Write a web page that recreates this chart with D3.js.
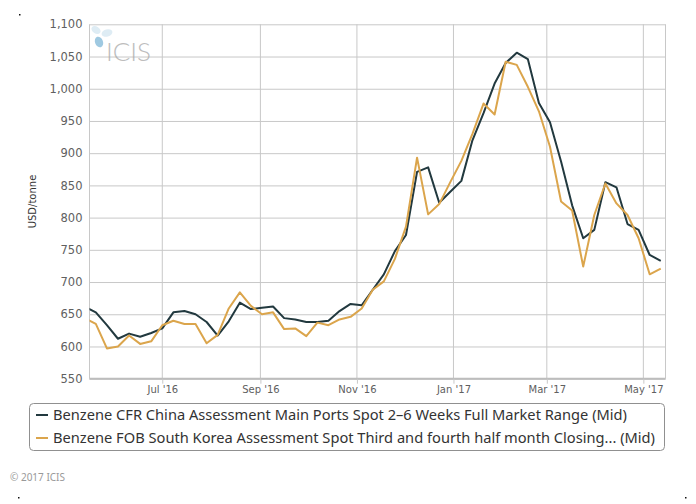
<!DOCTYPE html>
<html><head><meta charset="utf-8">
<script src="https://cdn.jsdelivr.net/npm/d3@7"></script>
<style>body{margin:0;background:#fff;} svg{display:block;}</style>
</head><body>
<svg id="chart" width="696" height="504"></svg>
<script>
const weeks = ["2016-05-13","2016-05-20","2016-05-27","2016-06-03","2016-06-10","2016-06-17","2016-06-24",
"2016-07-01","2016-07-08","2016-07-15","2016-07-22","2016-07-29","2016-08-05","2016-08-12","2016-08-19","2016-08-26",
"2016-09-02","2016-09-09","2016-09-16","2016-09-23","2016-09-30","2016-10-07","2016-10-14","2016-10-21","2016-10-28",
"2016-11-04","2016-11-11","2016-11-18","2016-11-25","2016-12-02","2016-12-09","2016-12-16","2016-12-23","2016-12-30",
"2017-01-06","2017-01-13","2017-01-20","2017-01-27","2017-02-03","2017-02-10","2017-02-17","2017-02-24",
"2017-03-03","2017-03-10","2017-03-17","2017-03-24","2017-03-31","2017-04-07","2017-04-14","2017-04-21","2017-04-28",
"2017-05-05","2017-05-12"];
const chinaCFR = [662,653,633,612,620,615,621,628,653,655,650,638,617,639,668,658,
660,662,644,642,638,638,640,655,666,664,688,712,748,773,871,878,823,840,857,
920,962,1008,1040,1056,1046,978,948,887,819,768,781,855,847,790,781,742,733];
const koreaFOB = [644,635,597,600,617,604,608,633,640,635,635,605,618,659,684,663,
650,653,627,628,616,637,633,642,646,659,688,701,736,786,893,805,821,855,888,
930,977,960,1042,1037,1003,965,910,825,811,724,804,853,822,804,768,712,721];
const seriesNames = ["Benzene CFR China Assessment Main Ports Spot 2\u20136 Weeks Full Market Range (Mid)",
"Benzene FOB South Korea Assessment Spot Third and fourth half month Closing... (Mid)"];
const seriesColors = ["#22393f","#dba54c"];
const yTicks = [550,600,650,700,750,800,850,900,950,1000,1050,1100];
const xTicks = ["2016-07-01","2016-09-01","2016-11-01","2017-01-01","2017-03-01","2017-05-01"];
const yTitle = "USD/tonne";
const credit = "\u00a9 2017 ICIS";

const svg = d3.select("#chart");
const plot = {left:89.5, right:665.5, top:24.3, bottom:378.7};
const parse = d3.utcParse("%Y-%m-%d");
const x = d3.scaleUtc().domain([parse("2016-05-16"), parse("2017-05-15")]).range([plot.left, plot.right]);
const y = d3.scaleLinear().domain([550,1100]).range([plot.bottom, plot.top]);
const gridColor = "#c8c8c8";

// horizontal grid + y labels
const ya = svg.append("g").attr("transform",`translate(${plot.left},0)`)
  .call(d3.axisLeft(y).tickValues(yTicks).tickSize(-(plot.right-plot.left)).tickPadding(7).tickFormat(d3.format(",")));
ya.select(".domain").remove();
ya.selectAll("line").attr("stroke",gridColor);
ya.selectAll("text").attr("fill","#606060").style("font-family","DejaVu Sans").style("font-size","11.5px");

// vertical grid
svg.append("g").selectAll("line").data(xTicks.map(parse)).join("line")
  .attr("x1",d=>x(d)).attr("x2",d=>x(d)).attr("y1",plot.top).attr("y2",plot.bottom)
  .attr("stroke",gridColor);
// plot borders left/right
svg.append("line").attr("x1",plot.left).attr("x2",plot.left).attr("y1",plot.top).attr("y2",plot.bottom).attr("stroke",gridColor);
svg.append("line").attr("x1",plot.right).attr("x2",plot.right).attr("y1",plot.top).attr("y2",plot.bottom).attr("stroke",gridColor);

// x axis
const xa = svg.append("g").attr("transform",`translate(0,${plot.bottom})`)
  .call(d3.axisBottom(x).tickValues(xTicks.map(parse)).tickSize(5).tickPadding(2).tickFormat(d3.utcFormat("%b '%y")));
xa.select(".domain").attr("stroke","#bdbdbd").attr("stroke-width",2).attr("d",`M${plot.left},0H${plot.right}`);
xa.selectAll("line").attr("stroke",gridColor);
xa.selectAll("text").attr("fill","#606060").style("font-family","DejaVu Sans").style("font-size","10px");

// logo watermark
const logo = svg.append("g").attr("opacity",0.75);
logo.append("ellipse").attr("cx",96).attr("cy",30).attr("rx",5).attr("ry",3.5).attr("transform","rotate(35,96,30)").attr("fill","#d3e6f1");
logo.append("ellipse").attr("cx",107).attr("cy",33).attr("rx",5.5).attr("ry",3.5).attr("transform","rotate(-15,107,33)").attr("fill","#d3e6f1");
logo.append("ellipse").attr("cx",99).attr("cy",42).attr("rx",4).attr("ry",5.5).attr("transform","rotate(-20,99,42)").attr("fill","#7fb7d8");
logo.append("text").attr("x",106).attr("y",60.5).text("ICIS").attr("fill","#a8a8a8")
  .style("font-family","Lato, 'Open Sans', sans-serif").style("font-weight","300").style("font-size","26px");

// clip + lines
svg.append("clipPath").attr("id","clip").append("rect")
  .attr("x",plot.left).attr("y",plot.top-5).attr("width",plot.right-plot.left).attr("height",plot.bottom-plot.top+10);
const line = d3.line().x(d=>x(d.date)).y(d=>y(d.v));
[chinaCFR,koreaFOB].forEach((vals,i)=>{
  const data = weeks.map((w,j)=>({date:parse(w), v:vals[j]}));
  svg.append("path").datum(data).attr("clip-path","url(#clip)").attr("d",line)
    .attr("fill","none").attr("stroke",seriesColors[i]).attr("stroke-width",2).attr("stroke-linejoin","round");
});

// y title
svg.append("text").attr("transform",`translate(36,${(plot.top+plot.bottom)/2}) rotate(-90)`)
  .attr("text-anchor","middle").text(yTitle).attr("fill","#333")
  .style("font-family","DejaVu Sans").style("font-size","10px");

// legend
const legendWidths = [574, 602];
const lg = svg.append("g");
lg.append("rect").attr("x",29.5).attr("y",403.5).attr("width",635).attr("height",47).attr("rx",4)
  .attr("fill","#fff").attr("stroke","#909090");
seriesNames.forEach((n,i)=>{
  const cy = 415 + i*23;
  lg.append("line").attr("x1",36).attr("x2",48).attr("y1",cy).attr("y2",cy).attr("stroke",seriesColors[i]).attr("stroke-width",2);
  lg.append("text").attr("x",53).attr("y",cy+4.8).text(n).attr("fill","#333")
    .attr("textLength",legendWidths[i]).attr("lengthAdjust","spacingAndGlyphs")
    .style("font-family","'Noto Sans', sans-serif").style("font-size","13.5px");
});

// credit
svg.append("text").attr("x",10).attr("y",481).text(credit).attr("fill","#999")
  .style("font-family","'Noto Sans', sans-serif").style("font-size","10px");

// corner marks
[[19,14],[18,497],[685,497]].forEach(p=>svg.append("rect").attr("x",p[0]).attr("y",p[1]).attr("width",1.5).attr("height",1.5).attr("fill","#111"));
</script>
</body></html>
